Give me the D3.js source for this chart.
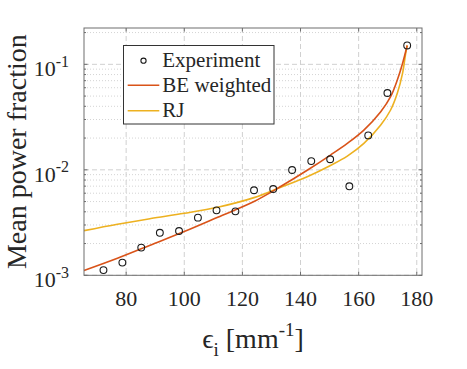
<!DOCTYPE html>
<html>
<head>
<meta charset="utf-8">
<script src="https://cdn.jsdelivr.net/npm/d3@7"></script>
<style>
  body { margin: 0; background: #fff; }
  svg text { font-family: 'Liberation Serif', 'Times New Roman', 'DejaVu Serif', serif; }
</style>
</head>
<body>
<svg class="chart" width="467" height="369"></svg>
<script>
// measured points
const epsExp = [72.2, 78.7, 85.2, 91.6, 98.2, 104.7, 111.1, 117.6, 124.0, 130.6, 137.1, 143.7, 150.2, 156.8, 163.3, 169.9, 176.7];
const powExp = [1.12e-3, 1.32e-3, 1.83e-3, 2.53e-3, 2.63e-3, 3.52e-3, 4.13e-3, 4.04e-3, 6.40e-3, 6.58e-3, 9.96e-3, 1.21e-2, 1.26e-2, 6.98e-3, 2.12e-2, 5.35e-2, 1.51e-1];

// model curves
const epsBE = [65.5, 77, 88.5, 100, 111.5, 124, 133, 142.3, 150.3, 156.1, 161.8, 167.6, 171.0, 173.3, 175.1, 176.7];
const powBE = [1.11e-3, 1.45e-3, 1.94e-3, 2.6e-3, 3.55e-3, 5.0e-3, 6.9e-3, 9.9e-3, 1.38e-2, 1.78e-2, 2.38e-2, 3.55e-2, 4.93e-2, 7.1e-2, 0.102, 0.151];
const epsRJ = [65.5, 77, 88.5, 100, 111.5, 124, 133, 142.3, 150.3, 156.1, 161.8, 167.6, 171.0, 173.3, 175.1, 176.2, 176.7];
const powRJ = [2.65e-3, 3.05e-3, 3.45e-3, 3.87e-3, 4.42e-3, 5.45e-3, 6.8e-3, 8.6e-3, 1.1e-2, 1.35e-2, 1.78e-2, 2.66e-2, 3.69e-2, 5.31e-2, 8.2e-2, 0.128, 0.151];

const xTicks = [80, 100, 120, 140, 160, 180];
const yTickExps = [-3, -2, -1];
const legendNames = ['Experiment', 'BE weighted', 'RJ'];

const startApp = () => {
  const plot = { left: 84, right: 422, top: 28, bottom: 275.3 };
  const colors = { be: '#D95319', rj: '#EDB120', axis: '#6e6e6e', text: '#262626' };

  const xScale = d3.scaleLinear().domain([65.5, 181.8]).range([plot.left, plot.right]);
  const yScale = d3.scaleLog().domain([1e-3, 0.221]).range([plot.bottom, plot.top]);

  const svg = d3.select('.chart');
  const yMajor = yTickExps.map(e => Math.pow(10, e));
  const yMinor = [];
  yTickExps.forEach((e) => {
    for (let k = 2; k <= 9; k += 1) {
      const v = k * Math.pow(10, e);
      if (v < yScale.domain()[1]) yMinor.push(v);
    }
  });

  // grid
  const grid = svg.append('g');
  grid.selectAll('.ymin').data(yMinor).enter().append('line')
    .attr('x1', plot.left).attr('x2', plot.right)
    .attr('y1', d => yScale(d)).attr('y2', d => yScale(d))
    .attr('stroke', '#d4d4d4').attr('stroke-width', 1)
    .attr('stroke-dasharray', '1,2');
  grid.selectAll('.ymaj').data(yMajor).enter().append('line')
    .attr('x1', plot.left).attr('x2', plot.right)
    .attr('y1', d => yScale(d)).attr('y2', d => yScale(d))
    .attr('stroke', '#d0d0d0').attr('stroke-width', 1)
    .attr('stroke-dasharray', '5,3');
  grid.selectAll('.xmaj').data(xTicks).enter().append('line')
    .attr('x1', d => xScale(d)).attr('x2', d => xScale(d))
    .attr('y1', plot.top).attr('y2', plot.bottom)
    .attr('stroke', '#d0d0d0').attr('stroke-width', 1)
    .attr('stroke-dasharray', '5,3');

  // curves
  const line = d3.line()
    .x(d => xScale(d[0]))
    .y(d => yScale(d[1]))
    .curve(d3.curveCatmullRom.alpha(0.5));
  svg.append('path')
    .datum(d3.zip(epsRJ, powRJ))
    .attr('d', line)
    .attr('fill', 'none').attr('stroke', colors.rj).attr('stroke-width', 1.6);
  svg.append('path')
    .datum(d3.zip(epsBE, powBE))
    .attr('d', line)
    .attr('fill', 'none').attr('stroke', colors.be).attr('stroke-width', 1.6);

  svg.selectAll('.pt').data(d3.zip(epsExp, powExp)).enter().append('circle')
    .attr('cx', d => xScale(d[0]))
    .attr('cy', d => yScale(d[1]))
    .attr('r', 3.4)
    .attr('fill', 'none').attr('stroke', '#1a1a1a').attr('stroke-width', 1.1);

  // axes box and ticks
  const axes = svg.append('g').attr('stroke', colors.axis).attr('stroke-width', 1);
  axes.append('rect')
    .attr('x', plot.left).attr('y', plot.top)
    .attr('width', plot.right - plot.left).attr('height', plot.bottom - plot.top)
    .attr('fill', 'none');
  const tickLen = 3.5;
  xTicks.forEach((t) => {
    const x = xScale(t);
    axes.append('line').attr('x1', x).attr('x2', x).attr('y1', plot.bottom).attr('y2', plot.bottom - tickLen);
    axes.append('line').attr('x1', x).attr('x2', x).attr('y1', plot.top).attr('y2', plot.top + tickLen);
  });
  yMajor.forEach((v) => {
    const y = yScale(v);
    axes.append('line').attr('x1', plot.left).attr('x2', plot.left + tickLen).attr('y1', y).attr('y2', y);
    axes.append('line').attr('x1', plot.right).attr('x2', plot.right - tickLen).attr('y1', y).attr('y2', y);
  });
  yMinor.forEach((v) => {
    const y = yScale(v);
    axes.append('line').attr('x1', plot.left).attr('x2', plot.left + 2).attr('y1', y).attr('y2', y);
    axes.append('line').attr('x1', plot.right).attr('x2', plot.right - 2).attr('y1', y).attr('y2', y);
  });

  // tick labels
  svg.selectAll('.xlab').data(xTicks).enter().append('text')
    .attr('x', d => xScale(d))
    .attr('y', 306)
    .attr('text-anchor', 'middle')
    .attr('font-size', 22)
    .attr('fill', colors.text)
    .text(d => d);

  const yLabels = svg.selectAll('.ylab').data(yTickExps).enter().append('text')
    .attr('x', 69)
    .attr('y', d => yScale(Math.pow(10, d)) + 11.7)
    .attr('text-anchor', 'end')
    .attr('fill', colors.text);
  yLabels.append('tspan').attr('font-size', 22).text('10');
  yLabels.append('tspan').attr('font-size', 16).attr('dy', -9.5).text(d => `-${-d}`);

  // axis titles
  svg.append('text')
    .attr('transform', `translate(26, ${(plot.top + plot.bottom) / 2}) rotate(-90)`)
    .attr('text-anchor', 'middle')
    .attr('font-size', 28)
    .attr('fill', colors.text)
    .text('Mean power fraction');

  const xTitle = svg.append('text')
    .attr('x', (plot.left + plot.right) / 2)
    .attr('y', 348)
    .attr('text-anchor', 'middle')
    .attr('font-size', 28)
    .attr('fill', colors.text);
  xTitle.append('tspan').text('ϵ');
  xTitle.append('tspan').attr('font-size', 19).attr('dy', 8).text('i');
  xTitle.append('tspan').attr('dy', -8).text(' [mm');
  xTitle.append('tspan').attr('font-size', 19).attr('dy', -12).text('-1');
  xTitle.append('tspan').attr('dy', 12).text(']');

  // legend
  const legend = svg.append('g');
  legend.append('rect')
    .attr('x', 123.5).attr('y', 45.5).attr('width', 150.5).attr('height', 78.5)
    .attr('fill', '#fff').attr('stroke', '#333').attr('stroke-width', 1);
  const rowY = [60.7, 85.2, 110.7];
  legend.append('circle')
    .attr('cx', 143.5).attr('cy', rowY[0]).attr('r', 2.6)
    .attr('fill', 'none').attr('stroke', '#1a1a1a').attr('stroke-width', 1.1);
  [colors.be, colors.rj].forEach((c, i) => {
    legend.append('line')
      .attr('x1', 127.7).attr('x2', 159.3)
      .attr('y1', rowY[i + 1]).attr('y2', rowY[i + 1])
      .attr('stroke', c).attr('stroke-width', 1.6);
  });
  legend.selectAll('.ltxt').data(legendNames).enter().append('text')
    .attr('x', 162.3)
    .attr('y', (d, i) => rowY[i] + 6.5)
    .attr('font-size', 21)
    .attr('fill', colors.text)
    .text(d => d);
};

window.onload = startApp;
</script>
</body>
</html>
